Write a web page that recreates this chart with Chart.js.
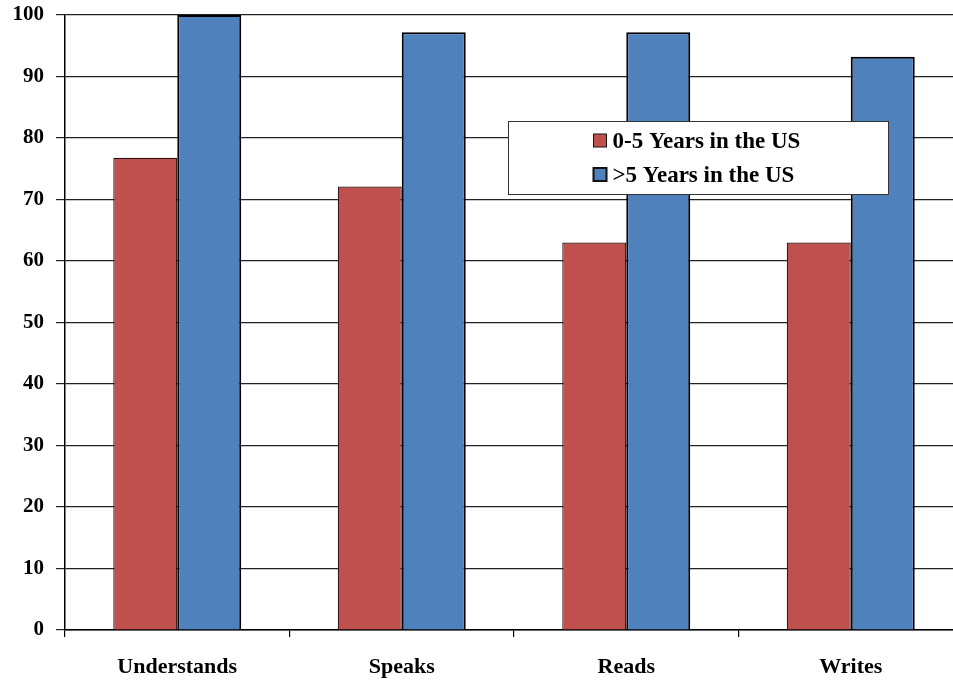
<!DOCTYPE html>
<html>
<head>
<meta charset="utf-8">
<script src="https://cdn.jsdelivr.net/npm/chart.js@4"></script>
<style>
  html, body { margin: 0; padding: 0; background: #fff; overflow: hidden; }
  #wrap { width: 963px; height: 681px; }
</style>
</head>
<body>
<div id="wrap"><canvas id="c" width="963" height="681"></canvas></div>
<script>
const categories = ['Understands', 'Speaks', 'Reads', 'Writes'];
const recentValues = [76.8, 72.1, 63.0, 63.0];
const longerValues = [100, 97.2, 97.2, 93.2];
const seriesNames = ['0-5 Years in the US', '>5 Years in the US'];
const yTicks = [0, 10, 20, 30, 40, 50, 60, 70, 80, 90, 100];

const RED = '#C0504D';
const BLUE = '#4F81BD';
const FONT = '"Liberation Serif", "Times New Roman", serif';

// Boxed legend drawn inside the plot, listing each dataset's label and swatch
const boxLegend = {
  id: 'boxLegend',
  afterDatasetsDraw(chart) {
    const ctx = chart.ctx;
    const x0 = 508.5, y0 = 121.5, w = 380, h = 73;
    ctx.save();
    ctx.fillStyle = '#fff';
    ctx.fillRect(x0, y0, w, h);
    ctx.strokeStyle = '#333';
    ctx.lineWidth = 1;
    ctx.strokeRect(x0, y0, w, h);
    ctx.font = 'bold 23px ' + FONT;
    ctx.textBaseline = 'middle';
    chart.data.datasets.forEach((ds, i) => {
      const cy = 141 + i * 34;
      const sx = 593.5;
      ctx.fillStyle = ds.backgroundColor;
      ctx.fillRect(sx, cy - 7, 13, 13);
      ctx.strokeStyle = '#111';
      ctx.lineWidth = i === 0 ? 1 : 2;
      ctx.strokeRect(sx, cy - 7, 13, 13);
      ctx.fillStyle = '#000';
      ctx.fillText(ds.label, sx + 19, cy + 1);
    });
    ctx.restore();
  }
};

new Chart(document.getElementById('c'), {
  type: 'bar',
  data: {
    labels: categories,
    datasets: [
      { label: seriesNames[0], data: recentValues, backgroundColor: RED, borderColor: '#2a1010', borderWidth: 1.2, borderSkipped: 'bottom' },
      { label: seriesNames[1], data: longerValues, backgroundColor: BLUE, borderColor: '#000', borderWidth: 2, borderSkipped: 'bottom' }
    ]
  },
  options: {
    responsive: false,
    animation: false,
    devicePixelRatio: 1,
    layout: { padding: { top: 15, right: 0, left: 0, bottom: 0 } },
    datasets: { bar: { categoryPercentage: 0.57, barPercentage: 1 } },
    plugins: { legend: { display: false }, tooltip: { enabled: false } },
    scales: {
      x: {
        offset: true,
        border: { display: true, color: '#000', width: 1.5 },
        grid: { offset: true, drawOnChartArea: false, drawTicks: true, tickLength: 7, color: '#000', lineWidth: 1.2 },
        ticks: { color: '#000', padding: 17, font: { family: FONT, weight: 'bold', size: 22 } },
        afterFit(scale) { scale.height = 51; scale.paddingLeft = 0; scale.paddingRight = 0; }
      },
      y: {
        min: 0, max: 100,
        afterBuildTicks(scale) { scale.ticks = yTicks.map(v => ({ value: v })); },
        border: { display: true, color: '#000', width: 1.5 },
        grid: { color: '#222', lineWidth: 1.2, tickLength: 9 },
        ticks: { color: '#000', padding: 12, font: { family: FONT, weight: 'bold', size: 21 } },
        afterFit(scale) { scale.width = 65; scale.paddingTop = 0; scale.paddingBottom = 0; }
      }
    }
  },
  plugins: [boxLegend]
});
</script>
</body>
</html>
